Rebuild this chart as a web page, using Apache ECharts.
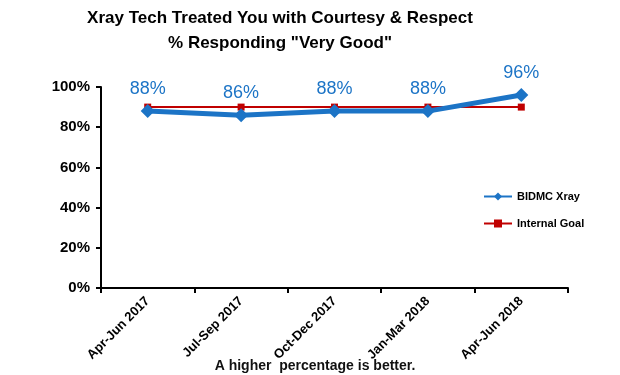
<!DOCTYPE html>
<html><head><meta charset="utf-8">
<script src="https://cdn.jsdelivr.net/npm/echarts@6/dist/echarts.min.js"></script>
<style>html,body{margin:0;padding:0;background:#fff}#c{width:620px;height:375px}</style>
</head><body><div id="c"></div>
<script>
var categories = ['Apr-Jun 2017','Jul-Sep 2017','Oct-Dec 2017','Jan-Mar 2018','Apr-Jun 2018'];
var xrayValues = [88, 86, 88, 88, 96];
var goalValues = [90, 90, 90, 90, 90];
var yTicks = [0, 20, 40, 60, 80, 100];
var titleLines = ['Xray Tech Treated You with Courtesy & Respect', '% Responding "Very Good"'];
var note = 'A higher  percentage is better.';

var ff = '"Liberation Sans", Arial, sans-serif';
var chart = echarts.init(document.getElementById('c'));
chart.setOption({
  animation: false,
  textStyle: {fontFamily: ff},
  title: [{
    text: titleLines.join('\n'),
    left: 275, top: 1, textAlign: 'center',
    textStyle: {fontFamily: ff, fontSize: 17, fontWeight: 'bold', color: '#000', lineHeight: 25}
  }, {
    text: note, left: 310, top: 354, textAlign: 'center',
    textStyle: {fontFamily: ff, fontSize: 14, fontWeight: 'bold', color: '#111'}
  }],
  grid: {left: 101, right: 52, top: 87, bottom: 87, containLabel: false},
  legend: {
    orient: 'vertical', left: 478, top: 186, itemGap: 16, itemWidth: 28, itemHeight: 10,
    textStyle: {fontFamily: ff, fontSize: 11, fontWeight: 'bold', color: '#000'},
    data: ['BIDMC Xray', 'Internal Goal']
  },
  xAxis: {
    type: 'category', data: categories, boundaryGap: true,
    axisLine: {lineStyle: {color: '#000', width: 2}},
    axisTick: {show: true, alignWithLabel: false, length: 5, lineStyle: {color: '#000', width: 2}},
    axisLabel: {rotate: 45, margin: 11, fontSize: 13, fontWeight: 'bold', color: '#000', fontFamily: ff}
  },
  yAxis: {
    type: 'value', min: yTicks[0], max: yTicks[yTicks.length-1], interval: 20,
    axisLine: {show: true, lineStyle: {color: '#000', width: 2}},
    axisTick: {show: true, length: 5, lineStyle: {color: '#000', width: 2}},
    splitLine: {show: false},
    axisLabel: {formatter: '{value}%', fontSize: 15, fontWeight: 'bold', color: '#000', margin: 11, fontFamily: ff}
  },
  series: [{
    name: 'Internal Goal', type: 'line', data: goalValues, z: 2,
    symbol: 'rect', symbolSize: 7,
    lineStyle: {color: '#C00000', width: 2},
    itemStyle: {color: '#C00000'}
  }, {
    name: 'BIDMC Xray', type: 'line', data: xrayValues, z: 3,
    symbol: 'diamond', symbolSize: 14,
    lineStyle: {color: '#1C74C6', width: 5},
    itemStyle: {color: '#1C74C6'},
    label: {show: true, position: 'top', distance: 6, formatter: '{c}%',
      fontSize: 18, color: '#1C74C6', fontFamily: ff}
  }]
});
</script></body></html>
